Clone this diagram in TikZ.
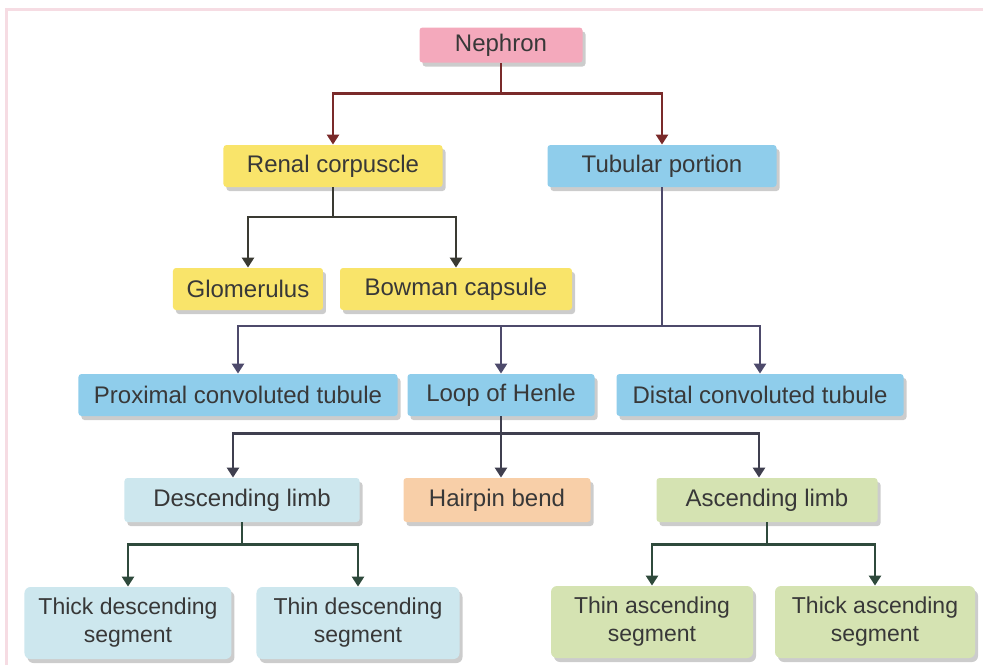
\documentclass[tikz,border=0pt]{standalone}
\usepackage{fontspec}
\setmainfont{Liberation Sans}
\usetikzlibrary{arrows.meta,positioning,shadows}
\definecolor{nephpink}{HTML}{F4A9BC}
\definecolor{corpyellow}{HTML}{F9E46A}
\definecolor{tubeblue}{HTML}{8FCDEB}
\definecolor{desccyan}{HTML}{CDE7EE}
\definecolor{bendpeach}{HTML}{F8CFA8}
\definecolor{ascgreen}{HTML}{D5E3B2}
\definecolor{textgray}{HTML}{383838}
\definecolor{nephline}{HTML}{7A2A2A}
\definecolor{corpline}{HTML}{3A3A32}
\definecolor{tubeline}{HTML}{4D4A6B}
\definecolor{loopline}{HTML}{3F3F4F}
\definecolor{limbline}{HTML}{2F4A3C}
\definecolor{framepink}{HTML}{F6DCE3}
\tikzset{
    treebox/.style={rectangle,rounded corners=1.5pt,align=center,text=textgray,font=\fontsize{12}{14}\selectfont,inner sep=2pt,minimum height=21pt,drop shadow={shadow xshift=1.5pt,shadow yshift=-2pt,fill=black!50,opacity=.4}},
    nephbox/.style={treebox,fill=nephpink,minimum width=81.5pt,minimum height=17.5pt},
    corpbox/.style={treebox,fill=corpyellow},
    tubebox/.style={treebox,fill=tubeblue},
    descbox/.style={treebox,fill=desccyan},
    bendbox/.style={treebox,fill=bendpeach},
    ascbox/.style={treebox,fill=ascgreen},
    segbox/.style={rounded corners=3pt,minimum height=36pt,font=\fontsize{11.5}{14}\selectfont},
    treeline/.style={line width=1.35pt},
    treearrow/.style={treeline,-{Triangle[length=5pt,width=6pt]}}
}
\begin{document}
\begin{tikzpicture}[on grid]
    \useasboundingbox (-250.5pt,22.5pt) rectangle (241pt,-310pt);
    \draw[framepink,line width=1.5pt] (-247pt,-310pt) |- (241pt,18pt);
    % top levels
    \node[nephbox] (nephron) {Nephron};
    \node[corpbox,minimum width=109.5pt,below left=60.5pt and 84pt of nephron] (renal) {Renal corpuscle};
    \node[tubebox,minimum width=114.5pt,below right=60.5pt and 80.5pt of nephron] (tubular) {Tubular portion};
    \node[corpbox,minimum width=75pt,below left=61.5pt and 42.5pt of renal] (glomerulus) {Glomerulus};
    \node[corpbox,minimum width=116pt,below right=61.5pt and 61.5pt of renal] (bowman) {Bowman capsule};
    % tubules
    \node[tubebox,minimum width=93.5pt,below=175pt of nephron] (loop) {Loop of Henle};
    \node[tubebox,minimum width=159.5pt,left=131.5pt of loop] (proximal) {Proximal convoluted tubule};
    \node[tubebox,minimum width=143.5pt,right=129.5pt of loop] (distal) {Distal convoluted tubule};
    % loop parts
    \node[bendbox,minimum width=93.5pt,minimum height=22pt,below left=52.5pt and 2pt of loop] (hairpin) {Hairpin bend};
    \node[descbox,minimum width=117.5pt,minimum height=22pt,left=127.5pt of hairpin] (desclimb) {Descending limb};
    \node[ascbox,minimum width=110.5pt,minimum height=22pt,right=135pt of hairpin] (asclimb) {Ascending limb};
    % segments
    \node[descbox,segbox,minimum width=103.5pt,below left=61.5pt and 57pt of desclimb] (thickdesc) {Thick descending\\segment};
    \node[descbox,segbox,minimum width=101.5pt,below right=61.5pt and 58pt of desclimb] (thindesc) {Thin descending\\segment};
    \node[ascbox,segbox,minimum width=101pt,below left=61pt and 57.5pt of asclimb] (thinasc) {Thin ascending\\segment};
    \node[ascbox,segbox,minimum width=100pt,below right=61pt and 54pt of asclimb] (thickasc) {Thick ascending\\segment};
    % connectors
    \draw[treeline,nephline] (nephron.south) -- ++(0,-15.25pt) coordinate (nephjoin);
    \draw[treearrow,nephline] (nephjoin) -| (renal.north);
    \draw[treearrow,nephline] (nephjoin) -| (tubular.north);
    \draw[treeline,corpline] (renal.south) -- ++(0,-14.75pt) coordinate (renaljoin);
    \draw[treearrow,corpline] (renaljoin) -| (glomerulus.north);
    \draw[treearrow,corpline] (renaljoin) -| (bowman.north);
    \draw[treeline,tubeline] (tubular.south) -- ++(0,-69.25pt) coordinate (tubejoin);
    \draw[treearrow,tubeline] (tubejoin) -| (proximal.north);
    \draw[treearrow,tubeline] (tubejoin) -| (loop.north);
    \draw[treearrow,tubeline] (tubejoin) -| (distal.north);
    \draw[treeline,loopline] (loop.south) -- ++(0,-8.5pt) coordinate (loopjoin);
    \draw[treearrow,loopline] (loopjoin) -| ([xshift=-4.5pt]desclimb.north);
    \draw[treearrow,loopline] (loopjoin) -| (hairpin.north -| loop.south);
    \draw[treearrow,loopline] (loopjoin) -| ([xshift=-4pt]asclimb.north);
    \draw[treeline,limbline] (desclimb.south) -- ++(0,-11pt) coordinate (descjoin);
    \draw[treearrow,limbline] (descjoin) -| (thickdesc.north);
    \draw[treearrow,limbline] (descjoin) -| (thindesc.north);
    \draw[treeline,limbline] (asclimb.south) -- ++(0,-11pt) coordinate (ascjoin);
    \draw[treearrow,limbline] (ascjoin) -| (thinasc.north);
    \draw[treearrow,limbline] (ascjoin) -| (thickasc.north);
\end{tikzpicture}
\end{document}
